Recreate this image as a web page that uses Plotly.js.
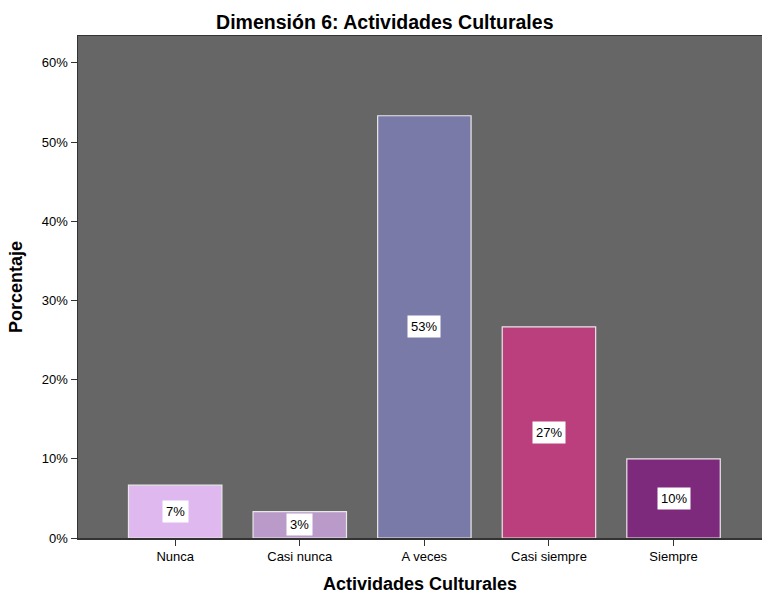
<!DOCTYPE html>
<html>
<head>
<meta charset="utf-8">
<script src="https://cdn.plot.ly/plotly-3.0.1.min.js"></script>
<style>html,body{margin:0;padding:0;background:#fff;}#chart{width:762px;height:594px;}</style>
</head>
<body>
<div id="chart"></div>
<script>
const categories = ["Nunca", "Casi nunca", "A veces", "Casi siempre", "Siempre"];
const percentages = [6.67, 3.33, 53.33, 26.67, 10.0];
const labels = ["7%", "3%", "53%", "27%", "10%"];
const barColors = ["#dfb8f0", "#b99ac9", "#7a7aa8", "#bb3f7d", "#7e2a7c"];

const trace = {
  type: "bar",
  x: categories,
  y: percentages,
  width: 0.75,
  marker: {color: barColors, line: {color: "#e8e8e8", width: 1.2}},
  hoverinfo: "none"
};

const annotations = categories.map((c, i) => ({
  x: c, y: percentages[i] / 2, xref: "x", yref: "y",
  text: labels[i], showarrow: false,
  bgcolor: "#ffffff", borderpad: 3,
  font: {family: "Liberation Sans, Arial, sans-serif", size: 13, color: "#000"}
}));

const layout = {
  width: 762, height: 594,
  margin: {l: 78, r: 0, t: 36, b: 56},
  paper_bgcolor: "#ffffff",
  plot_bgcolor: "#666666",
  showlegend: false,
  title: {text: "Dimensión 6: Actividades Culturales", x: 0.505, xref: "container", y: 0.975, yref: "container",
          font: {family: "Liberation Sans, Arial, sans-serif", size: 19.5, color: "#000", weight: "bold"}},
  xaxis: {
    type: "category", range: [-0.78, 4.71],
    showline: true, linecolor: "#333", linewidth: 1.5, mirror: true,
    ticks: "outside", ticklen: 6, tickcolor: "#333",
    tickfont: {family: "Liberation Sans, Arial, sans-serif", size: 13, color: "#000"},
    showgrid: false, zeroline: false,
    title: {text: "Actividades Culturales", standoff: 14,
            font: {family: "Liberation Sans, Arial, sans-serif", size: 18, color: "#000", weight: "bold"}}
  },
  yaxis: {
    range: [0, 63.4], dtick: 10, ticksuffix: "%",
    showline: true, linecolor: "#333", linewidth: 1.5,
    ticks: "outside", ticklen: 6, tickcolor: "#333",
    tickfont: {family: "Liberation Sans, Arial, sans-serif", size: 13, color: "#000"},
    showgrid: false, zeroline: false,
    title: {text: "Porcentaje", standoff: 14,
            font: {family: "Liberation Sans, Arial, sans-serif", size: 18, color: "#000", weight: "bold"}}
  },
  annotations: annotations
};

Plotly.newPlot("chart", [trace], layout, {displayModeBar: false, staticPlot: true});
</script>
</body>
</html>
